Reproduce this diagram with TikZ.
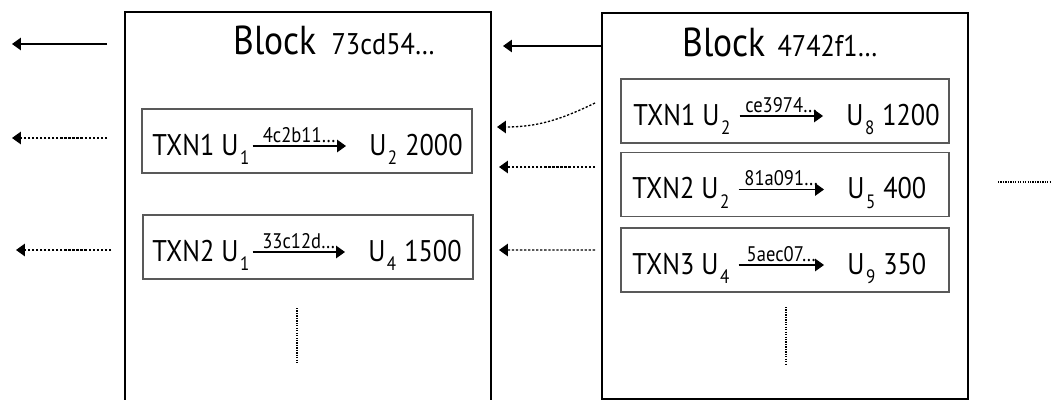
\documentclass[tikz,border=0pt]{standalone}
\usepackage{fontspec}
\setmainfont{PT Sans}[FakeStretch=0.88]
\usetikzlibrary{arrows.meta}

\newcommand\hashfont{\fontsize{17}{20}\selectfont}
\newcommand\lblfont{\fontsize{12}{14}\selectfont}
\newcommand\subs[1]{\hspace{0.3mm}\raisebox{-1.9mm}{\fontsize{11}{13}\selectfont #1}}

\begin{document}
\begin{tikzpicture}[x=0.2mm, y=-0.2mm,
  blockbox/.style={draw, line width=0.85pt, anchor=north west, minimum width=73.2mm, inner sep=0pt, outer sep=0pt},
  txnbox/.style={draw=black!65, line width=0.6pt, minimum height=12.8mm, inner sep=0pt, outer sep=0pt},
  txntext/.style={anchor=base west, inner sep=0pt, font=\fontsize{17}{20}\selectfont},
  blocktitle/.style={anchor=base west, inner sep=0pt, font=\fontsize{23}{27}\selectfont},
  ptr/.style={-{Triangle[length=5pt, width=7pt]}, line width=0.6pt},
  txptr/.style={ptr, line width=0.75pt, dash pattern=on 1.3pt off 1pt},
  lbl/.style={midway, above, inner sep=1.8pt, font=\lblfont},
  more/.style={line width=1.2pt, dash pattern=on 0.7pt off 0.7pt}]

\useasboundingbox (0,0) rectangle (1051,399);
\clip (0,0) rectangle (1051,399);

% blocks
\node[blockbox, minimum height=81.6mm] (lb) at (125,12) {};
\node[blockbox, minimum height=77.2mm] (rb) at (602,13) {};
\node[blocktitle] (lt) at (233,55) {Block\hspace{3mm}{\hashfont 73cd54\ldots}};
\node[blocktitle] (rt) at (682,57) {Block\hspace{2.4mm}{\hashfont 4742f1\ldots}};

% transactions of the older block
\node[txnbox, minimum width=66mm] (la1) at (307,141) {};
\node[txntext] (fa1) at (152,155) {TXN1 U\subs{1}};
\node[txntext] (ta1) at (369,155) {U\subs{2}\hspace{1.6mm}2000};
\draw[ptr] ([shift={(0.6mm,1.8mm)}]fa1.base east) -- ([shift={(-4.6mm,1.8mm)}]ta1.base west) node[lbl] {4c2b11\ldots};

\node[txnbox, minimum width=66mm] (la2) at (308,247) {};
\node[txntext] (fa2) at (152,261) {TXN2 U\subs{1}};
\node[txntext] (ta2) at (368,261) {U\subs{4}\hspace{1.6mm}1500};
\draw[ptr] ([shift={(0.6mm,1.8mm)}]fa2.base east) -- ([shift={(-4.6mm,1.8mm)}]ta2.base west) node[lbl] {33c12d\ldots};

\draw[more] (297,308) -- (297,364);

% transactions of the newer block
\node[txnbox, minimum width=65.6mm] (rb1) at (785,111) {};
\node[txntext] (fb1) at (633,125) {TXN1 U\subs{2}};
\node[txntext] (tb1) at (846,125) {U\subs{8}\hspace{1.6mm}1200};
\draw[ptr] ([shift={(1.8mm,1.8mm)}]fb1.base east) -- ([shift={(-4.6mm,1.8mm)}]tb1.base west) node[lbl] {ce3974\ldots};

\node[txnbox, minimum width=65.6mm] (rb2) at (785,184.5) {};
\node[txntext] (fb2) at (632,198.5) {TXN2 U\subs{2}};
\node[txntext] (tb2) at (847,198.5) {U\subs{5}\hspace{1.6mm}400};
\draw[ptr] ([shift={(1.8mm,1.8mm)}]fb2.base east) -- ([shift={(-4.6mm,1.8mm)}]tb2.base west) node[lbl] {81a091\ldots};

\node[txnbox, minimum width=65.6mm] (rb3) at (785,260) {};
\node[txntext] (fb3) at (632,274) {TXN3 U\subs{4}};
\node[txntext] (tb3) at (847,274) {U\subs{9}\hspace{1.6mm}350};
\draw[ptr] ([shift={(1.8mm,1.8mm)}]fb3.base east) -- ([shift={(-4.6mm,1.8mm)}]tb3.base west) node[lbl] {5aec07\ldots};

\draw[more] (786,307) -- (786,365);

% pointers between the blocks
\draw[ptr] ([yshift=-6.6mm]rb.north west) -- ([shift={(2.4mm,-6.8mm)}]lb.north east);
\draw[txptr] ([shift={(-1.4mm,-18mm)}]rb.north west) .. controls +(-35,17) and +(40,0) .. ([shift={(1.2mm,-23mm)}]lb.north east);
\draw[txptr] ([shift={(-1.4mm,-30.8mm)}]rb.north west) -- ([shift={(1.6mm,-31mm)}]lb.north east);
\draw[txptr] ([shift={(-1.4mm,-47.4mm)}]rb.north west) -- ([shift={(1.6mm,-47.6mm)}]lb.north east);

% pointers to earlier blocks
\coordinate (prevhead) at (107,44);
\coordinate (prevheadend) at (12,44);
\coordinate (prevtxa) at (107,138);
\coordinate (prevtxaend) at (12,138);
\coordinate (prevtxb) at (111,250);
\coordinate (prevtxbend) at (16,250);
\draw[ptr] (prevhead) -- (prevheadend);
\draw[txptr] (prevtxa) -- (prevtxaend);
\draw[txptr] (prevtxb) -- (prevtxbend);

% next block
\coordinate (nexta) at (998,182);
\coordinate (nextb) at (1060,182);
\draw[more, line width=0.9pt] (nexta) -- (nextb);

\end{tikzpicture}
\end{document}
